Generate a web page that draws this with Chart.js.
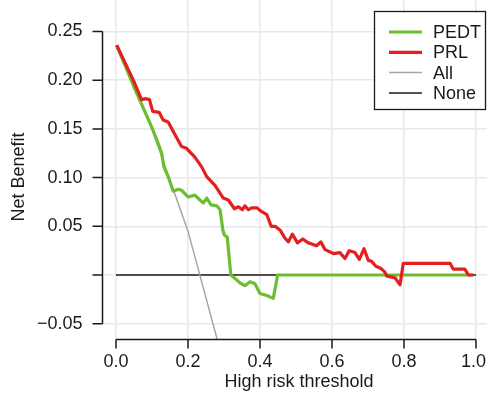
<!DOCTYPE html>
<html>
<head>
<meta charset="utf-8">
<script src="https://cdn.jsdelivr.net/npm/chart.js@4"></script>
<style>
  html, body { margin: 0; padding: 0; background: #ffffff; }
  #wrap { width: 487px; height: 393px; position: relative; }
</style>
</head>
<body>
<div id="wrap"><canvas id="dca"></canvas></div>
<script>
// Decision curve values
const pedtX = [0.002, 0.05, 0.099, 0.113, 0.127, 0.133, 0.145, 0.159, 0.173, 0.182, 0.201, 0.219, 0.233, 0.243, 0.252, 0.264, 0.28, 0.289, 0.297, 0.301, 0.309, 0.319, 0.329, 0.344, 0.358, 0.372, 0.386, 0.4, 0.419, 0.437, 0.449, 0.99];
const pedtY = [0.236, 0.193, 0.152, 0.139, 0.125, 0.111, 0.101, 0.086, 0.088, 0.087, 0.08, 0.082, 0.077, 0.074, 0.079, 0.072, 0.071, 0.067, 0.046, 0.041, 0.039, 0.0, -0.003, -0.008, -0.011, -0.007, -0.009, -0.019, -0.021, -0.024, 0.0, 0.0];

const prlX = [0.002, 0.048, 0.056, 0.071, 0.083, 0.093, 0.102, 0.12, 0.131, 0.145, 0.164, 0.182, 0.196, 0.219, 0.238, 0.252, 0.275, 0.298, 0.312, 0.329, 0.34, 0.351, 0.358, 0.368, 0.377, 0.391, 0.405, 0.419, 0.431, 0.442, 0.456, 0.469, 0.479, 0.49, 0.504, 0.519, 0.534, 0.557, 0.569, 0.581, 0.604, 0.622, 0.636, 0.648, 0.664, 0.676, 0.689, 0.701, 0.71, 0.722, 0.735, 0.747, 0.752, 0.775, 0.789, 0.798, 0.928, 0.937, 0.969, 0.979, 0.993];
const prlY = [0.236, 0.2, 0.193, 0.18, 0.181, 0.18, 0.168, 0.167, 0.159, 0.157, 0.144, 0.132, 0.13, 0.121, 0.111, 0.101, 0.092, 0.079, 0.077, 0.068, 0.07, 0.067, 0.071, 0.067, 0.069, 0.069, 0.065, 0.062, 0.05, 0.05, 0.046, 0.038, 0.034, 0.042, 0.033, 0.037, 0.033, 0.03, 0.034, 0.026, 0.022, 0.023, 0.017, 0.025, 0.023, 0.016, 0.027, 0.015, 0.014, 0.009, 0.007, 0.003, -0.001, -0.003, -0.01, 0.012, 0.012, 0.006, 0.006, 0.0, 0.0];

const allX = [0, 0.1, 0.2, 0.3];
const allY = [0.235, 0.15, 0.045, -0.092];

const noneX = [0, 1];
const noneY = [0, 0];

const xTicks = [0, 0.2, 0.4, 0.6, 0.8, 1.0];
const yTicks = [-0.05, 0, 0.05, 0.1, 0.15, 0.2, 0.25];
const yTickLabels = ["\u22120.05", "", "0.05", "0.10", "0.15", "0.20", "0.25"];
const xTickLabels = ["0.0", "0.2", "0.4", "0.6", "0.8", "1.0"];

const FONT = "18px 'Liberation Sans', Arial, sans-serif";
const INK = "#1a1a1a";

function toPoints(xs, ys) {
  return xs.map((x, i) => ({ x: x, y: ys[i] }));
}

// R style axes, detached from the grid, plus the boxed legend
const rAxesPlugin = {
  id: "rAxes",
  afterDraw(chart) {
    const ctx = chart.ctx;
    const xs = chart.scales.x;
    const ys = chart.scales.y;
    const area = chart.chartArea;

    ctx.save();
    ctx.strokeStyle = INK;
    ctx.fillStyle = INK;
    ctx.lineWidth = 1.5;
    ctx.font = FONT;

    // y axis
    const ax = Math.round(area.left) + 0.5;
    ctx.beginPath();
    ctx.moveTo(ax, ys.getPixelForValue(yTicks[0]));
    ctx.lineTo(ax, ys.getPixelForValue(yTicks[yTicks.length - 1]));
    yTicks.forEach((v) => {
      const py = ys.getPixelForValue(v);
      ctx.moveTo(ax, py);
      ctx.lineTo(ax - 10, py);
    });
    ctx.stroke();
    ctx.textAlign = "right";
    ctx.textBaseline = "middle";
    yTicks.forEach((v, i) => {
      ctx.fillText(yTickLabels[i], ax - 20, ys.getPixelForValue(v));
    });

    // x axis
    const ay = Math.round(area.bottom) + 0.5;
    ctx.beginPath();
    ctx.moveTo(xs.getPixelForValue(xTicks[0]), ay);
    ctx.lineTo(xs.getPixelForValue(xTicks[xTicks.length - 1]), ay);
    xTicks.forEach((v) => {
      const px = xs.getPixelForValue(v);
      ctx.moveTo(px, ay);
      ctx.lineTo(px, ay + 9);
    });
    ctx.stroke();
    ctx.textAlign = "center";
    xTicks.forEach((v, i) => {
      // keep the last label inside the canvas
      const w = ctx.measureText(xTickLabels[i]).width;
      const px = Math.min(xs.getPixelForValue(v), chart.width - 1 - w / 2);
      ctx.fillText(xTickLabels[i], px, 362);
    });
    ctx.fillText("High risk threshold", 299, 382);

    // y title
    ctx.save();
    ctx.translate(19, 177);
    ctx.rotate(-Math.PI / 2);
    ctx.fillText("Net Benefit", 0, 0);
    ctx.restore();

    // legend
    ctx.fillStyle = "#ffffff";
    ctx.fillRect(374, 11, 112, 99);
    ctx.strokeStyle = INK;
    ctx.lineWidth = 1.3;
    ctx.strokeRect(374.5, 11.5, 111, 98);
    const sets = chart.data.datasets;
    sets.forEach((ds, i) => {
      const ly = 32 + i * 20.3;
      ctx.strokeStyle = ds.borderColor;
      ctx.lineWidth = ds.borderWidth;
      ctx.beginPath();
      ctx.moveTo(389, ly);
      ctx.lineTo(422, ly);
      ctx.stroke();
      ctx.fillStyle = INK;
      ctx.textAlign = "left";
      ctx.fillText(ds.label, 433, ly + 1);
    });
    ctx.restore();
  },
};

function createDcaChart(elementId) {
  const ctx = document.getElementById(elementId).getContext("2d");

  return new Chart(ctx, {
    type: "line",
    data: {
      datasets: [
        {
          label: "PEDT",
          data: toPoints(pedtX, pedtY),
          borderColor: "#6cbd2f",
          borderWidth: 3.2,
          order: 2,
        },
        {
          label: "PRL",
          data: toPoints(prlX, prlY),
          borderColor: "#e41f1f",
          borderWidth: 3.2,
          order: 1,
        },
        {
          label: "All",
          data: toPoints(allX, allY),
          borderColor: "#a6a6a6",
          borderWidth: 1.5,
          order: 3,
        },
        {
          label: "None",
          data: toPoints(noneX, noneY),
          borderColor: "#1a1a1a",
          borderWidth: 1.5,
          order: 4,
        },
      ],
    },
    options: {
      responsive: true,
      maintainAspectRatio: false,
      animation: false,
      elements: {
        point: { radius: 0 },
        line: { tension: 0, borderJoinStyle: "round", fill: false },
      },
      layout: {
        padding: { left: 101.6, right: 0, top: 0, bottom: 54 },
      },
      scales: {
        x: {
          type: "linear",
          min: -0.04,
          max: 1.0306,
          afterBuildTicks: (scale) => {
            scale.ticks = xTicks.map((v) => ({ value: v }));
          },
          ticks: { display: false },
          border: { display: false },
          grid: { color: "#e8e8e8", lineWidth: 1.5, drawTicks: false },
        },
        y: {
          type: "linear",
          min: -0.0657,
          max: 0.2823,
          afterBuildTicks: (scale) => {
            scale.ticks = yTicks.map((v) => ({ value: v }));
          },
          ticks: { display: false },
          border: { display: false },
          grid: { color: "#e8e8e8", lineWidth: 1.5, drawTicks: false },
        },
      },
      plugins: {
        legend: { display: false },
        tooltip: { enabled: false },
      },
    },
    plugins: [rAxesPlugin],
  });
}

createDcaChart("dca");
</script>
</body>
</html>
